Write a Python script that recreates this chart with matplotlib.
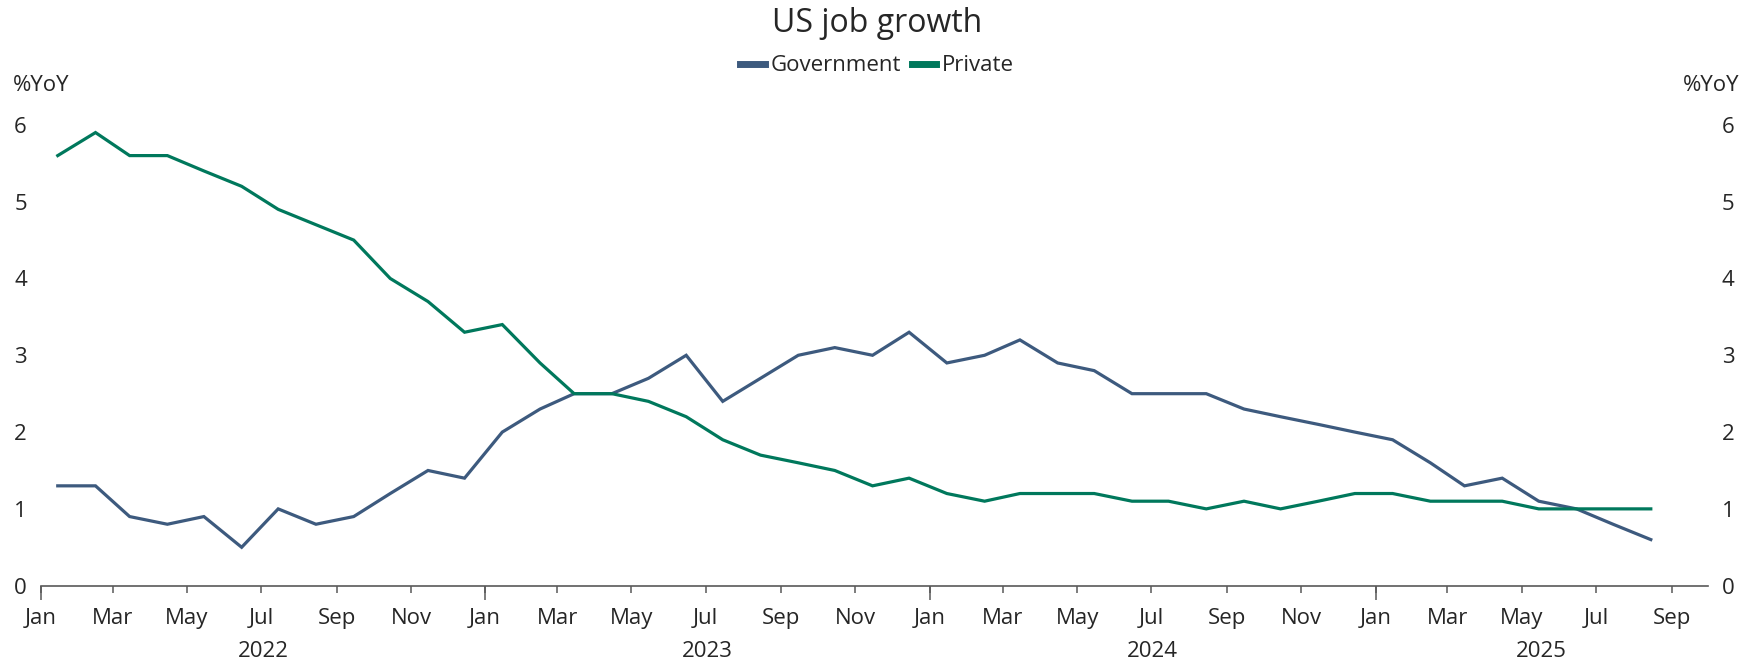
import numpy as np
import pandas as pd
import matplotlib
matplotlib.use("Agg")
import matplotlib.pyplot as plt
import matplotlib.dates as mdates
import matplotlib.transforms as mtransforms

plt.rcParams['font.family'] = ['Open Sans', 'DejaVu Sans']

# monthly YoY job growth, Jan 2022 - Aug 2025
months = pd.date_range("2022-01-01", "2025-08-01", freq="MS")
government = [1.3, 1.3, 0.9, 0.8, 0.9, 0.5, 1.0, 0.8, 0.9, 1.2, 1.5, 1.4,
              2.0, 2.3, 2.5, 2.5, 2.7, 3.0, 2.4, 2.7, 3.0, 3.1, 3.0, 3.3,
              2.9, 3.0, 3.2, 2.9, 2.8, 2.5, 2.5, 2.5, 2.3, 2.2, 2.1, 2.0,
              1.9, 1.6, 1.3, 1.4, 1.1, 1.0, 0.8, 0.6]
private = [5.6, 5.9, 5.6, 5.6, 5.4, 5.2, 4.9, 4.7, 4.5, 4.0, 3.7, 3.3,
           3.4, 2.9, 2.5, 2.5, 2.4, 2.2, 1.9, 1.7, 1.6, 1.5, 1.3, 1.4,
           1.2, 1.1, 1.2, 1.2, 1.2, 1.1, 1.1, 1.0, 1.1, 1.0, 1.1, 1.2,
           1.2, 1.1, 1.1, 1.1, 1.0, 1.0, 1.0, 1.0]
years = [2022, 2023, 2024, 2025]
yticks = [0, 1, 2, 3, 4, 5, 6]

gov_color = "#3d5a7e"
priv_color = "#00785c"
text_color = "#262626"
axis_color = "#595959"

# plot each month in the middle of its slot
x = months + pd.Timedelta(days=14)

fig = plt.figure(figsize=(17.54, 6.66), dpi=100)
ax = fig.add_axes([0.0232, 0.1206, 0.9506, 0.6919])

ax.plot(x, government, color=gov_color, lw=2.3, label="Government",
        solid_joinstyle="miter", clip_on=False)
ax.plot(x, private, color=priv_color, lw=2.3, label="Private",
        solid_joinstyle="miter", clip_on=False)

ax.set_xlim(pd.Timestamp("2022-01-01"), pd.Timestamp("2025-10-01"))
ax.set_ylim(0, 6)

for s in ["top", "left", "right"]:
    ax.spines[s].set_visible(False)
ax.spines["bottom"].set_color(axis_color)
ax.spines["bottom"].set_linewidth(1.2)

# month labels every 2 months, longer tick at each January
ax.xaxis.set_major_locator(mdates.MonthLocator(bymonth=[1, 3, 5, 7, 9, 11]))
ax.xaxis.set_major_formatter(mdates.DateFormatter("%b"))
ax.xaxis.set_minor_locator(mdates.MonthLocator(bymonth=[1]))
ax.xaxis.remove_overlapping_locs = False
ax.tick_params(axis="x", which="major", length=5, width=1.1, color=axis_color,
               labelsize=16, labelcolor=text_color, pad=11)
ax.tick_params(axis="x", which="minor", length=10, width=1.1, color=axis_color)

ax.set_yticks(yticks)
ax.tick_params(axis="y", length=0, labelsize=16, labelcolor=text_color,
               labelleft=True, labelright=True, pad=10)

# year labels under the month labels
trans = mtransforms.blended_transform_factory(ax.transData, ax.transAxes)
xmax = ax.get_xlim()[1]
for yr in years:
    start = mdates.date2num(pd.Timestamp(f"{yr}-01-01"))
    end = min(mdates.date2num(pd.Timestamp(f"{yr + 1}-01-01")), xmax)
    ax.text((start + end) / 2, -0.142, str(yr), transform=trans,
            ha="center", va="center", fontsize=16, color=text_color)

fig.text(0.0074, 0.871, "%YoY", ha="left", va="center", fontsize=16,
         color=text_color)
fig.text(0.9915, 0.871, "%YoY", ha="right", va="center", fontsize=16,
         color=text_color)

fig.text(0.5, 0.964, "US job growth", ha="center", va="center",
         fontsize=23, color=text_color)
fig.legend(loc="center", bbox_to_anchor=(0.5, 0.901), ncol=2, frameon=False,
           fontsize=16, handlelength=1.1, handletextpad=0.25,
           columnspacing=0.5, labelcolor=text_color)
for line in fig.legends[0].get_lines():
    line.set_linewidth(5)

fig.savefig("out.png", dpi=100)
